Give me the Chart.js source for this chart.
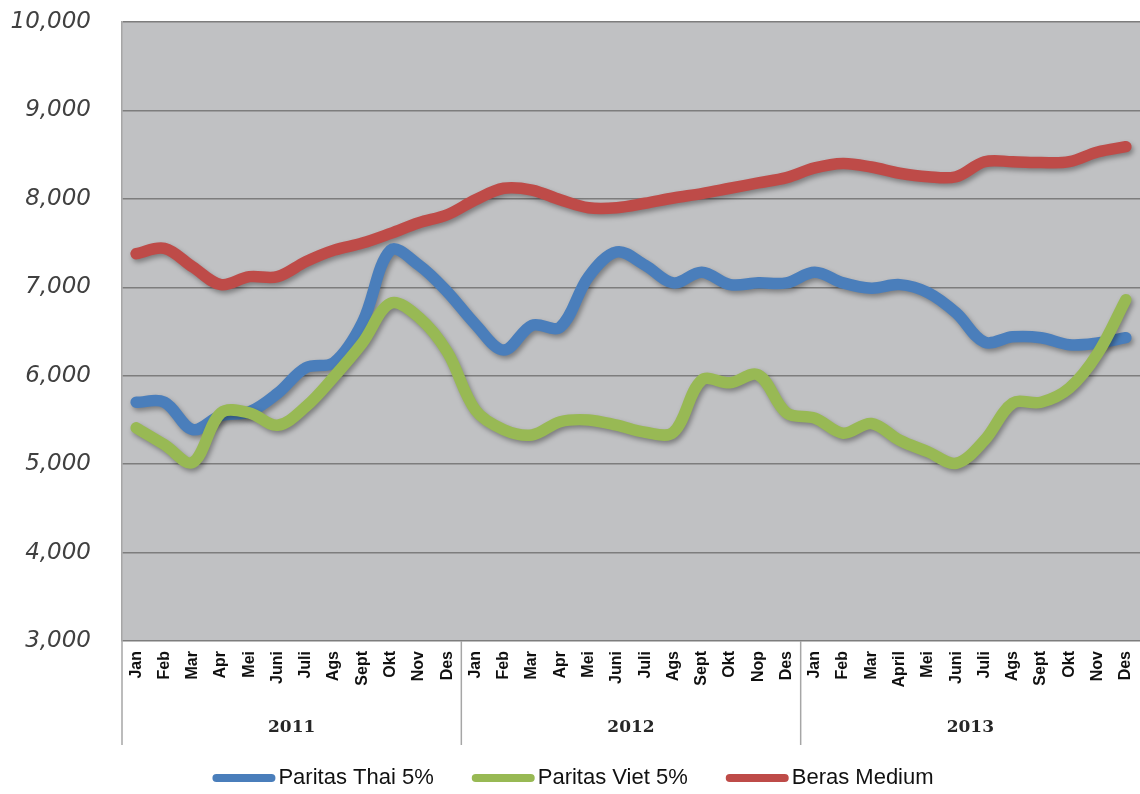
<!DOCTYPE html>
<html lang="id">
<head>
  <meta charset="UTF-8">
  <title>Harga Beras</title>
  <script src="https://cdn.jsdelivr.net/npm/chart.js"></script>
  <style>
    body { margin: 0; background: #fff; }
    #wrap { width: 1140px; height: 794px; }
  </style>
</head>
<body>
  <div id="wrap"><canvas id="riceChart" width="1140" height="794"></canvas></div>

  <script>
    // Month labels per year (as printed on the axis)
    const months2011 = ['Jan', 'Feb', 'Mar', 'Apr', 'Mei', 'Juni', 'Juli', 'Ags', 'Sept', 'Okt', 'Nov', 'Des'];
    const months2012 = ['Jan', 'Feb', 'Mar', 'Apr', 'Mei', 'Juni', 'Juli', 'Ags', 'Sept', 'Okt', 'Nop', 'Des'];
    const months2013 = ['Jan', 'Feb', 'Mar', 'April', 'Mei', 'Juni', 'Juli', 'Ags', 'Sept', 'Okt', 'Nov', 'Des'];
    const years = ['2011', '2012', '2013'];

    // Series values (Rp/kg)
    const thai = [5700, 5700, 5390, 5550, 5590, 5800, 6090, 6150, 6600, 7420, 7250, 6950,
                  6580, 6290, 6570, 6550, 7120, 7400, 7250, 7050, 7170, 7030, 7050, 7050,
                  7170, 7050, 6990, 7030, 6940, 6710, 6380, 6440, 6430, 6350, 6370, 6430];
    const viet = [5410, 5220, 5020, 5580, 5580, 5440, 5650, 5990, 6370, 6820, 6660, 6270,
                  5610, 5390, 5330, 5480, 5500, 5440, 5360, 5360, 5950, 5920, 6010, 5580,
                  5520, 5350, 5460, 5270, 5140, 5010, 5270, 5690, 5700, 5860, 6250, 6860];
    const medium = [7380, 7440, 7230, 7030, 7120, 7120, 7290, 7420, 7500, 7610, 7730, 7820,
                    7990, 8120, 8100, 7990, 7900, 7900, 7950, 8010, 8060, 8120, 8180, 8240,
                    8350, 8400, 8360, 8290, 8250, 8250, 8420, 8420, 8410, 8420, 8530, 8590];

    const yTicks = [3000, 4000, 5000, 6000, 7000, 8000, 9000, 10000];

    const labels = months2011.concat(months2012, months2013);

    // grey plot area
    const plotBackground = {
      id: 'plotBackground',
      beforeDraw(chart) {
        const { ctx, chartArea: a } = chart;
        ctx.save();
        ctx.fillStyle = '#c0c1c3';
        ctx.fillRect(a.left, a.top, a.right - a.left, a.bottom - a.top);
        ctx.restore();
      }
    };

    // soft drop shadow under the lines
    const lineShadow = {
      id: 'lineShadow',
      beforeDatasetsDraw(chart) {
        const ctx = chart.ctx;
        ctx.save();
        ctx.shadowColor = 'rgba(0,0,0,0.35)';
        ctx.shadowBlur = 5;
        ctx.shadowOffsetX = 2;
        ctx.shadowOffsetY = 3;
      },
      afterDatasetsDraw(chart) {
        chart.ctx.restore();
      }
    };

    // year row + separators under the month labels
    const yearAxis = {
      id: 'yearAxis',
      afterDraw(chart) {
        const { ctx, chartArea: a, scales: { x } } = chart;
        const bottom = a.bottom + 104;
        ctx.save();
        ctx.strokeStyle = '#a6a6a6';
        ctx.lineWidth = 1.5;
        const seps = [a.left];
        for (let k = 1; k < years.length; k++) {
          seps.push((x.getPixelForTick(12 * k - 1) + x.getPixelForTick(12 * k)) / 2);
        }
        seps.forEach(px => {
          ctx.beginPath();
          ctx.moveTo(px, a.bottom);
          ctx.lineTo(px, bottom);
          ctx.stroke();
        });
        ctx.fillStyle = '#262626';
        ctx.font = 'bold 17px "DejaVu Serif", serif';
        ctx.textAlign = 'center';
        ctx.textBaseline = 'middle';
        years.forEach((yr, k) => {
          const cx = (x.getPixelForTick(12 * k) + x.getPixelForTick(12 * k + 11)) / 2;
          ctx.fillText(yr, cx, a.bottom + 87);
        });
        ctx.restore();
      }
    };

    // legend row: long rounded swatch right against the text, wide gaps
    const bottomLegend = {
      id: 'bottomLegend',
      afterDraw(chart) {
        const ctx = chart.ctx;
        const sw = 63, gapText = 3, gapItem = 38, y = 778;
        ctx.save();
        ctx.font = '22px "Liberation Sans", Arial, sans-serif';
        ctx.textBaseline = 'middle';
        const items = chart.data.datasets.map(ds => ({ ds, w: sw + gapText + ctx.measureText(ds.label).width }));
        const total = items.reduce((s, it) => s + it.w, 0) + gapItem * (items.length - 1);
        let x = chart.width / 2 - total / 2 + 3;
        items.forEach(it => {
          ctx.fillStyle = it.ds.borderColor;
          ctx.beginPath();
          ctx.roundRect(x, y - 4, sw, 8, 4);
          ctx.fill();
          ctx.fillStyle = '#111';
          ctx.fillText(it.ds.label, x + sw + gapText, y);
          x += it.w + gapItem;
        });
        ctx.restore();
      }
    };

    const ctx = document.getElementById('riceChart').getContext('2d');
    const riceChart = new Chart(ctx, {
      type: 'line',
      data: {
        labels: labels,
        datasets: [{
          label: 'Paritas Thai 5%',
          data: thai,
          borderColor: '#4a7ebb',
          backgroundColor: '#4a7ebb',
          order: 1
        },
        {
          label: 'Paritas Viet 5%',
          data: viet,
          borderColor: '#98b954',
          backgroundColor: '#98b954',
          order: 0
        },
        {
          label: 'Beras Medium',
          data: medium,
          borderColor: '#be4b48',
          backgroundColor: '#be4b48',
          order: 2
        }]
      },
      options: {
        responsive: false,
        animation: false,
        layout: { padding: { top: 22, right: 0, left: 0, bottom: 0 } },
        elements: {
          line: { borderWidth: 11.5, tension: 0.35, borderCapStyle: 'round', borderJoinStyle: 'round', fill: false },
          point: { radius: 0 }
        },
        plugins: {
          legend: { display: false },
          tooltip: { enabled: false }
        },
        scales: {
          x: {
            offset: true,
            grid: { display: false, drawTicks: false, offset: true },
            border: { display: false },
            afterFit(scale) {
              scale.height = 153;
              scale.paddingLeft = 0;
              scale.paddingRight = 0;
            },
            ticks: {
              autoSkip: false,
              maxRotation: 90,
              minRotation: 90,
              padding: 10,
              color: '#111',
              font: { family: '"Liberation Sans Narrow", "Arial Narrow", sans-serif', size: 16, weight: 'bold' }
            }
          },
          y: {
            min: 3000,
            max: 10000,
            afterFit(scale) {
              scale.width = 122;
              scale.paddingTop = 0;
              scale.paddingBottom = 0;
            },
            afterBuildTicks(scale) { scale.ticks = yTicks.map(v => ({ value: v })); },
            grid: { color: '#7d7d7d', lineWidth: 1.5, drawTicks: false },
            border: { display: true, color: '#a6a6a6', width: 1.5 },
            ticks: {
              padding: 31,
              color: '#404040',
              font: { family: '"DejaVu Sans", sans-serif', size: 23, style: 'italic' },
              callback: v => v.toLocaleString('en-US')
            }
          }
        }
      },
      plugins: [plotBackground, lineShadow, yearAxis, bottomLegend]
    });
  </script>
</body>
</html>
